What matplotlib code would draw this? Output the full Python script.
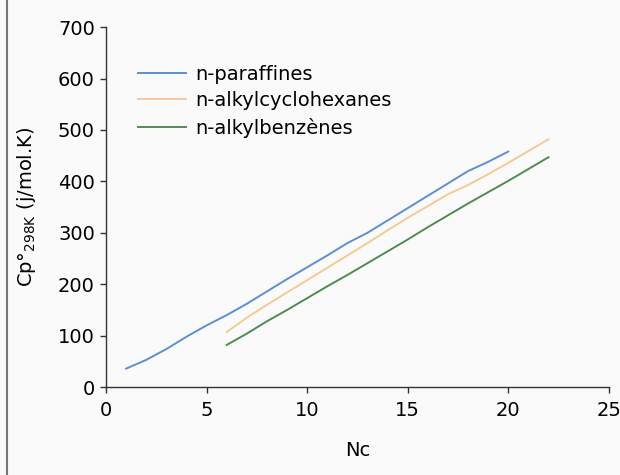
import numpy as np
import matplotlib.pyplot as plt
from matplotlib.lines import Line2D

plt.rcParams['font.family'] = ['DejaVu Sans']

# Cp at 298 K (j/mol.K) against carbon number
nc_paraffins = list(range(1, 21))
cp_paraffins = [36, 53, 74, 98, 120, 140, 162, 186, 210, 233,
                256, 280, 300, 324, 348, 372, 396, 420, 438, 458]

nc_cyclohexanes = list(range(6, 23))
cp_cyclohexanes = [107, 135, 160, 184, 208, 232, 256, 280, 305, 329,
                   352, 375, 393, 414, 436, 459, 482]

nc_benzenes = list(range(6, 23))
cp_benzenes = [82, 104, 128, 150, 173, 196, 218, 241, 264, 287,
               311, 334, 357, 379, 401, 424, 447]

labels = ['n-paraffines', 'n-alkylcyclohexanes', 'n-alkylbenzènes']
colors = ['#5f8fd3', '#f7c995', '#4f8c52']

fig = plt.figure(figsize=(6.2, 4.75), dpi=100, facecolor='#fafafa')
ax = fig.add_axes([0.171, 0.185, 0.811, 0.758])
ax.set_facecolor('#fafafa')

ax.plot(nc_paraffins, cp_paraffins, color=colors[0], lw=1.4, label=labels[0])
ax.plot(nc_cyclohexanes, cp_cyclohexanes, color=colors[1], lw=1.4, label=labels[1])
ax.plot(nc_benzenes, cp_benzenes, color=colors[2], lw=1.4, label=labels[2])

ax.set_xlim(0, 25)
ax.set_ylim(0, 700)
ax.set_xticks(np.arange(0, 26, 5))
ax.set_yticks(np.arange(0, 701, 100))
for s in ['top', 'right']:
    ax.spines[s].set_visible(False)
for s in ['left', 'bottom']:
    ax.spines[s].set_color('#333333')
    ax.spines[s].set_linewidth(1.0)
ax.tick_params(direction='out', length=4, width=1, color='#333333',
               labelsize=14, pad=4)
ax.tick_params(axis='x', pad=6)

ax.set_xlabel('Nc', fontsize=14)
ax.set_ylabel('Cp°$_{\\mathregular{298K}}$ (j/mol.K)', fontsize=14)
ax.xaxis.set_label_coords(0.5, -0.15)
ax.yaxis.set_label_coords(-0.135, 0.5)

ax.legend(loc='upper left', bbox_to_anchor=(0.063, 0.896), frameon=False,
          fontsize=14, handlelength=2.5, handletextpad=0.45,
          labelspacing=0.4, borderaxespad=0, borderpad=0)

# left border of the scanned frame
fig.add_artist(Line2D([0.012, 0.012], [0, 1], color='#777777', lw=1.5))

fig.savefig('out.png', dpi=100, facecolor=fig.get_facecolor())
